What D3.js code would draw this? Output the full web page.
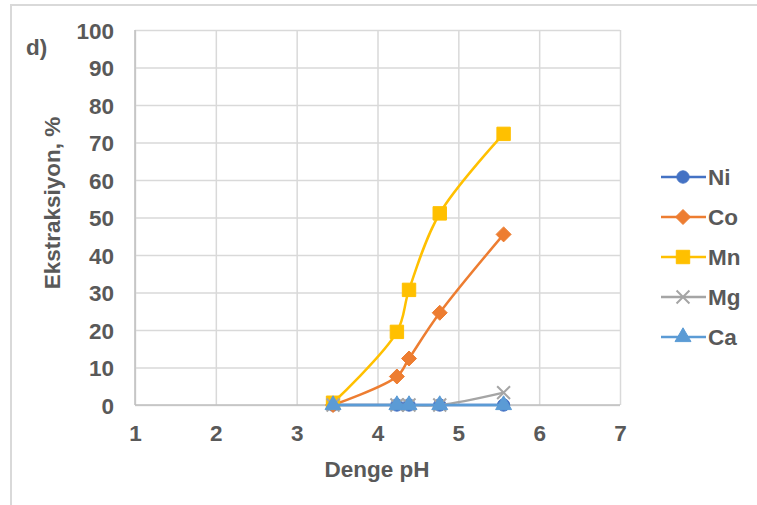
<!DOCTYPE html>
<html lang="tr">
<head>
<meta charset="UTF-8">
<title>Ekstraksiyon</title>
<style>
  body { margin: 0; background: #fff; }
  text { font-family: "Liberation Sans", Arial, sans-serif; font-weight: bold; fill: #595959; }
</style>
</head>
<body>
<script src="https://cdn.jsdelivr.net/npm/d3@7"></script>
<script>
    // pH values and extraction (%) per metal
    var ph = [3.45, 4.24, 4.39, 4.77, 5.56];
    var ni = [0, 0, 0, 0, 0];
    var co = [0, 7.6, 12.4, 24.6, 45.5];
    var mn = [0.6, 19.5, 30.7, 51.1, 72.3];
    var mg = [0, 0, 0, 0, 3.3];
    var ca = [0, 0, 0, 0, 0];

    var xTicks = [1, 2, 3, 4, 5, 6, 7];
    var yTicks = [0, 10, 20, 30, 40, 50, 60, 70, 80, 90, 100];

    var series = [
        {name: 'Ni', values: ni, color: '#4472C4', marker: 'circle'},
        {name: 'Co', values: co, color: '#ED7D31', marker: 'diamond'},
        {name: 'Mn', values: mn, color: '#FFC000', marker: 'square'},
        {name: 'Mg', values: mg, color: '#A5A5A5', marker: 'cross'},
        {name: 'Ca', values: ca, color: '#5B9BD5', marker: 'triangle'}
    ];

    var width = 757, height = 505;
    var plot = {left: 135, right: 620, top: 30, bottom: 405};
    var fontSize = '22.5px';

    var svg = d3.select('body').append('svg')
            .attr('width', width)
            .attr('height', height);

    // chart frame
    svg.append('rect')
            .attr('x', 11).attr('y', 5)
            .attr('width', width + 10).attr('height', height + 10)
            .attr('fill', 'none')
            .attr('stroke', '#d9d9d9')
            .attr('stroke-width', 2);

    var x = d3.scaleLinear().domain([1, 7]).range([plot.left, plot.right]);
    var y = d3.scaleLinear().domain([0, 100]).range([plot.bottom, plot.top]);

    // gridlines
    svg.append('g')
            .attr('transform', 'translate(0,' + plot.bottom + ')')
            .call(d3.axisBottom(x).tickValues(xTicks).tickSize(-(plot.bottom - plot.top)).tickFormat(''))
            .call(function (g) {
                g.select('.domain').remove();
                g.selectAll('line').attr('stroke', '#d9d9d9').attr('stroke-width', 1.5);
            });
    svg.append('g')
            .attr('transform', 'translate(' + plot.left + ',0)')
            .call(d3.axisLeft(y).tickValues(yTicks).tickSize(-(plot.right - plot.left)).tickFormat(''))
            .call(function (g) {
                g.select('.domain').remove();
                g.selectAll('line').attr('stroke', '#d9d9d9').attr('stroke-width', 1.5);
            });
    // axis lines
    svg.append('line')
            .attr('x1', plot.left).attr('x2', plot.right)
            .attr('y1', plot.bottom).attr('y2', plot.bottom)
            .attr('stroke', '#bfbfbf').attr('stroke-width', 1.5);
    svg.append('line')
            .attr('x1', plot.left).attr('x2', plot.left)
            .attr('y1', plot.top).attr('y2', plot.bottom)
            .attr('stroke', '#bfbfbf').attr('stroke-width', 1.5);

    // tick labels
    svg.append('g')
            .attr('transform', 'translate(0,' + (plot.bottom + 28) + ')')
            .call(d3.axisBottom(x).tickValues(xTicks).tickSize(0).tickPadding(0).tickFormat(d3.format('d')))
            .call(function (g) {
                g.select('.domain').remove();
                g.selectAll('text').attr('font-size', fontSize).attr('dy', '0.36em')
                        .style('font-family', '"Liberation Sans", Arial, sans-serif').attr('fill', '#595959');
            });
    svg.append('g')
            .attr('transform', 'translate(' + (plot.left - 21) + ',0)')
            .call(d3.axisLeft(y).tickValues(yTicks).tickSize(0).tickPadding(0).tickFormat(d3.format('d')))
            .call(function (g) {
                g.select('.domain').remove();
                g.selectAll('text').attr('font-size', fontSize).attr('dy', '0.36em')
                        .style('font-family', '"Liberation Sans", Arial, sans-serif').attr('fill', '#595959');
            });

    // titles
    svg.append('text')
            .attr('x', 377).attr('y', 477)
            .attr('text-anchor', 'middle')
            .attr('font-size', fontSize)
            .text('Denge pH');
    svg.append('text')
            .attr('transform', 'translate(60,203) rotate(-90)')
            .attr('text-anchor', 'middle')
            .attr('font-size', fontSize)
            .text('Ekstraksiyon, %');
    svg.append('text')
            .attr('x', 26).attr('y', 55)
            .attr('font-size', fontSize)
            .text('d)');

    var symbols = {
        circle: d3.symbol().type(d3.symbolCircle).size(120),
        square: d3.symbol().type(d3.symbolSquare).size(180),
        cross: d3.symbol().type(d3.symbolX).size(110),
        triangle: d3.symbol().type(d3.symbolTriangle).size(110)
    };

    function drawMarker(sel, s) {
        var d = s.marker === 'diamond' ? 'M0,-7.5L7.5,0L0,7.5L-7.5,0Z' : symbols[s.marker]();
        sel.append('path')
                .attr('d', d)
                .attr('fill', s.marker === 'cross' ? 'none' : s.color)
                .attr('stroke', s.color)
                .attr('stroke-width', s.marker === 'cross' ? 2 : 1);
    }

    var line = d3.line()
            .x(function (d) { return x(d[0]); })
            .y(function (d) { return y(d[1]); })
            .curve(d3.curveCatmullRom.alpha(0.5));

    series.forEach(function (s) {
        var pts = ph.map(function (p, i) { return [p, s.values[i]]; });
        var g = svg.append('g');
        g.append('path')
                .attr('d', line(pts))
                .attr('fill', 'none')
                .attr('stroke', s.color)
                .attr('stroke-width', 2.5);
        g.selectAll('g.pt')
                .data(pts)
                .enter()
                .append('g')
                .attr('class', 'pt')
                .attr('transform', function (d) { return 'translate(' + x(d[0]) + ',' + y(d[1]) + ')'; })
                .each(function () { drawMarker(d3.select(this), s); });
    });

    // legend
    var legend = svg.append('g').attr('transform', 'translate(661,177)');
    series.forEach(function (s, i) {
        var row = legend.append('g').attr('transform', 'translate(0,' + (i * 40) + ')');
        row.append('line')
                .attr('x1', 0).attr('x2', 45)
                .attr('stroke', s.color).attr('stroke-width', 2.5);
        var m = row.append('g').attr('transform', 'translate(22,0)');
        drawMarker(m, s);
        row.append('text')
                .attr('x', 47).attr('dy', '0.36em')
                .attr('font-size', fontSize)
                .text(s.name);
    });
</script>
</body>
</html>
